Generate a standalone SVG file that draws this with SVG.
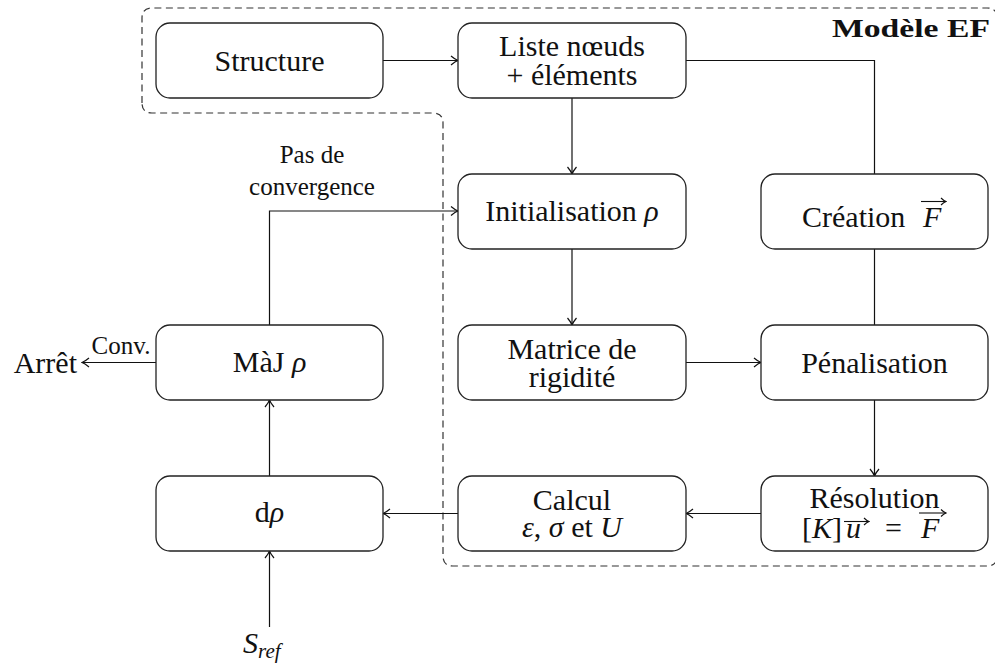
<svg xmlns="http://www.w3.org/2000/svg" width="995" height="668" viewBox="0 0 995 668">
<style>
.box{fill:#fff;stroke:#222;stroke-width:1.3}
.t{font-family:"Liberation Serif","DejaVu Serif",serif;font-size:30px;fill:#111;text-anchor:middle}
.s{font-family:"Liberation Serif","DejaVu Serif",serif;font-size:25px;fill:#111;text-anchor:middle}
.i{font-style:italic}
.c{fill:none;stroke:#111;stroke-width:1.2}
.v{fill:none;stroke:#111;stroke-width:1.1}
.dash{fill:none;stroke:#333;stroke-width:1.2;stroke-dasharray:7 4.5}
</style>
<defs>
<marker id="arr" viewBox="-9 -6 10 12" refX="0" refY="0" markerWidth="10" markerHeight="12" markerUnits="userSpaceOnUse" orient="auto">
<path d="M-7,-4.5 C-4,-2 -1.5,-0.5 0,0 C-1.5,0.5 -4,2 -7,4.5" fill="none" stroke="#111" stroke-width="1.2"/>
</marker>
<marker id="vec" viewBox="-7 -5 8 10" refX="0" refY="0" markerWidth="8" markerHeight="10" markerUnits="userSpaceOnUse" orient="auto">
<path d="M-5,-3.5 C-3,-1.5 -1,-0.3 0,0 C-1,0.3 -3,1.5 -5,3.5" fill="none" stroke="#111" stroke-width="1.1"/>
</marker>
</defs>

<g id="region">
<path class="dash" d="M142,103 V18 Q142,8 152,8 H987 Q997,8 997,18 V556 Q997,566 987,566 H453 Q443,566 443,556 V123 Q443,113 433,113 H152 Q142,113 142,103 Z"/>
<text x="990" y="37" font-family="Liberation Serif, DejaVu Serif, serif" font-size="25" font-weight="bold" text-anchor="end" textLength="158" lengthAdjust="spacingAndGlyphs" fill="#111">Modèle EF</text>
</g>

<g id="connectors">
<path class="c" d="M383,60.5 H458" marker-end="url(#arr)"/>
<path class="c" d="M572,98 V174" marker-end="url(#arr)"/>
<path class="c" d="M686,60.5 H874.5 V174"/>
<path class="c" d="M572,249 V325" marker-end="url(#arr)"/>
<path class="c" d="M686,362.5 H761" marker-end="url(#arr)"/>
<path class="c" d="M874.5,249 V325"/>
<path class="c" d="M874.5,400 V476" marker-end="url(#arr)"/>
<path class="c" d="M761,513.5 H686" marker-end="url(#arr)"/>
<path class="c" d="M458,513.5 H383" marker-end="url(#arr)"/>
<path class="c" d="M269.5,476 V400" marker-end="url(#arr)"/>
<path class="c" d="M269.5,325 V211 H458" marker-end="url(#arr)"/>
<path class="c" d="M156,362.5 H82" marker-end="url(#arr)"/>
<path class="c" d="M269.5,627 V551" marker-end="url(#arr)"/>
<text class="s" x="312" y="163">Pas de</text>
<text class="s" x="312" y="195">convergence</text>
<text class="s" x="121" y="354">Conv.</text>
</g>

<g id="structure">
<rect class="box" x="156" y="23" width="227" height="75" rx="14"/>
<text class="t" x="269.5" y="71">Structure</text>
</g>

<g id="liste">
<rect class="box" x="458" y="23" width="228" height="75" rx="14"/>
<text class="t" x="572" y="56">Liste nœuds</text>
<text class="t" x="572" y="85">+ éléments</text>
</g>

<g id="initialisation">
<rect class="box" x="458" y="174" width="228" height="75" rx="14"/>
<text class="t" x="572" y="221">Initialisation <tspan class="i">ρ</tspan></text>
</g>

<g id="creation">
<rect class="box" x="761" y="174" width="227" height="75" rx="14"/>
<text class="t" x="802" y="226.5" style="text-anchor:start">Création <tspan class="i" x="923">F</tspan></text>
<path class="v" d="M921,201.5 H946" marker-end="url(#vec)"/>
</g>

<g id="matrice">
<rect class="box" x="458" y="325" width="228" height="75" rx="14"/>
<text class="t" x="572" y="358.5">Matrice de</text>
<text class="t" x="572" y="386.5">rigidité</text>
</g>

<g id="penalisation">
<rect class="box" x="761" y="325" width="227" height="75" rx="14"/>
<text class="t" x="874.5" y="372.5">Pénalisation</text>
</g>

<g id="resolution">
<rect class="box" x="761" y="476" width="227" height="75" rx="14"/>
<text class="t" x="874.5" y="508">Résolution</text>
<text class="t" y="538" style="text-anchor:start"><tspan x="802">[</tspan><tspan class="i">K</tspan><tspan>]</tspan><tspan class="i" x="846">u</tspan><tspan x="885">=</tspan><tspan class="i" x="921">F</tspan></text>
<path class="v" d="M844,521.5 H869" marker-end="url(#vec)"/>
<path class="v" d="M919,513 H946" marker-end="url(#vec)"/>
</g>

<g id="calcul">
<rect class="box" x="458" y="476" width="228" height="75" rx="14"/>
<text class="t" x="572" y="510">Calcul</text>
<text class="t" x="572" y="537"><tspan class="i">ε</tspan>, <tspan class="i">σ</tspan> et <tspan class="i">U</tspan></text>
</g>

<g id="maj">
<rect class="box" x="156" y="325" width="227" height="75" rx="14"/>
<text class="t" x="269.5" y="372">MàJ <tspan class="i">ρ</tspan></text>
</g>

<g id="drho">
<rect class="box" x="156" y="476" width="227" height="75" rx="14"/>
<text class="t" x="269.5" y="522">d<tspan class="i">ρ</tspan></text>
</g>

<g id="arret">
<text class="t" x="77" y="373" style="text-anchor:end">Arrêt</text>
</g>

<g id="sref">
<text class="t" x="243" y="653" style="text-anchor:start"><tspan class="i">S</tspan><tspan class="i" font-size="21" dy="5">ref</tspan></text>
</g>
</svg>
